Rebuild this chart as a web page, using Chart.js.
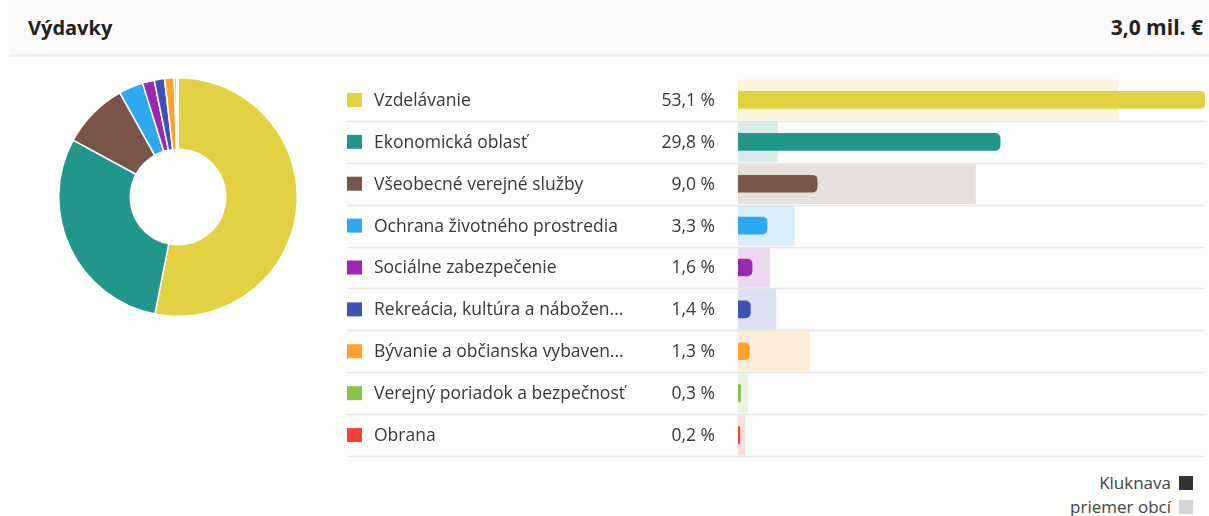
<!DOCTYPE html>
<html>
<head>
<meta charset="utf-8">
<script src="https://cdn.jsdelivr.net/npm/chart.js@4"></script>
<style>
  body { margin: 0; width: 1209px; height: 516px; background: #fdfdfc; font-family: "Open Sans", Lato, sans-serif; overflow: hidden; position: relative; }
  .head { position: absolute; left: 9px; top: 0; width: 1200px; height: 54px; background: #fcfbf9; border-bottom: 3px solid #efeeed; }
  .head .title { position: absolute; left: 19px; top: 14px; font-size: 20px; font-weight: bold; color: #222; }
  .head .total { position: absolute; right: 6px; top: 13px; font-size: 21px; font-weight: bold; color: #222; }
  #donut { position: absolute; left: 58px; top: 77px; }
  #bars { position: absolute; left: 347px; top: 79px; }
  .leg { position: absolute; right: 16px; font-size: 17px; color: #444; }
  .leg span { display: inline-block; width: 14px; height: 14px; margin-left: 8px; vertical-align: -1px; }
</style>
</head>
<body>
<div class="head"><div class="title">Výdavky</div><div class="total" id="total"></div></div>
<canvas id="donut" width="240" height="240"></canvas>
<canvas id="bars" width="858" height="380"></canvas>
<div class="leg" style="top:471px">Kluknava<span style="background:#333"></span></div>
<div class="leg" style="top:495px">priemer obcí<span style="background:#d4d4d4"></span></div>
<script>
const totalText = '3,0 mil. €';
const categories = [
  'Vzdelávanie',
  'Ekonomická oblasť',
  'Všeobecné verejné služby',
  'Ochrana životného prostredia',
  'Sociálne zabezpečenie',
  'Rekreácia, kultúra a nábožen...',
  'Bývanie a občianska vybaven...',
  'Verejný poriadok a bezpečnosť',
  'Obrana'
];
const kluknava = [53.1, 29.8, 9.0, 3.3, 1.6, 1.4, 1.3, 0.3, 0.2];
const priemer = [43.2, 4.5, 27.0, 6.4, 3.6, 4.3, 8.1, 1.1, 0.8];
const colors = ['#e2d243', '#21968a', '#795548', '#2ea9ef', '#9c27b0', '#3f51b5', '#ffa229', '#8bc34a', '#f44336'];

document.getElementById('total').textContent = totalText;

function tint(hex, a) {
  const n = parseInt(hex.slice(1), 16);
  return 'rgba(' + (n >> 16) + ',' + ((n >> 8) & 255) + ',' + (n & 255) + ',' + a + ')';
}
function fmt(v) {
  return v.toFixed(1).replace('.', ',') + ' %';
}

new Chart(document.getElementById('donut'), {
  type: 'doughnut',
  data: {
    labels: categories,
    datasets: [{ data: kluknava, backgroundColor: colors, borderColor: '#ffffff', borderWidth: 1.5 }]
  },
  options: {
    responsive: false,
    animation: false,
    cutout: '40%',
    plugins: { legend: { display: false }, tooltip: { enabled: false } }
  }
});

// row labels, squares, percentages and separators
const rowText = {
  id: 'rowText',
  afterDraw(chart) {
    const ctx = chart.ctx;
    const y = chart.scales.y;
    const area = chart.chartArea;
    const band = area.height / categories.length;
    ctx.save();
    ctx.strokeStyle = '#e5e5e5';
    ctx.lineWidth = 1.5;
    categories.forEach((c, i) => {
      const cy = y.getPixelForValue(i);
      ctx.fillStyle = colors[i];
      ctx.fillRect(0, cy - 7, 15, 14);
      ctx.fillStyle = '#383838';
      ctx.font = '17.5px "Open Sans", Lato, sans-serif';
      ctx.textBaseline = 'middle';
      ctx.textAlign = 'left';
      ctx.fillText(c, 27, cy + 1);
      ctx.textAlign = 'right';
      ctx.fillText(fmt(kluknava[i]), 368, cy + 1);
      const ly = Math.round(cy + band / 2) + 0.5;
      ctx.beginPath();
      ctx.moveTo(0, ly);
      ctx.lineTo(area.right - 1, ly);
      ctx.stroke();
    });
    ctx.restore();
  }
};

new Chart(document.getElementById('bars'), {
  type: 'bar',
  data: {
    labels: categories,
    datasets: [
      { label: 'Kluknava', data: kluknava, backgroundColor: colors, barThickness: 17, borderRadius: 5, order: 0 },
      { label: 'priemer obcí', data: priemer, backgroundColor: colors.map(c => tint(c, 0.17)), barThickness: 40, order: 1 }
    ]
  },
  options: {
    indexAxis: 'y',
    responsive: false,
    animation: false,
    layout: { padding: { left: 391, right: 0, top: 0, bottom: 3 } },
    scales: {
      x: { display: false, min: 0, max: Math.max(...kluknava) },
      y: { display: false, stacked: false }
    },
    datasets: { bar: { grouped: false } },
    plugins: { legend: { display: false }, tooltip: { enabled: false } }
  },
  plugins: [rowText]
});
</script>
</body>
</html>
